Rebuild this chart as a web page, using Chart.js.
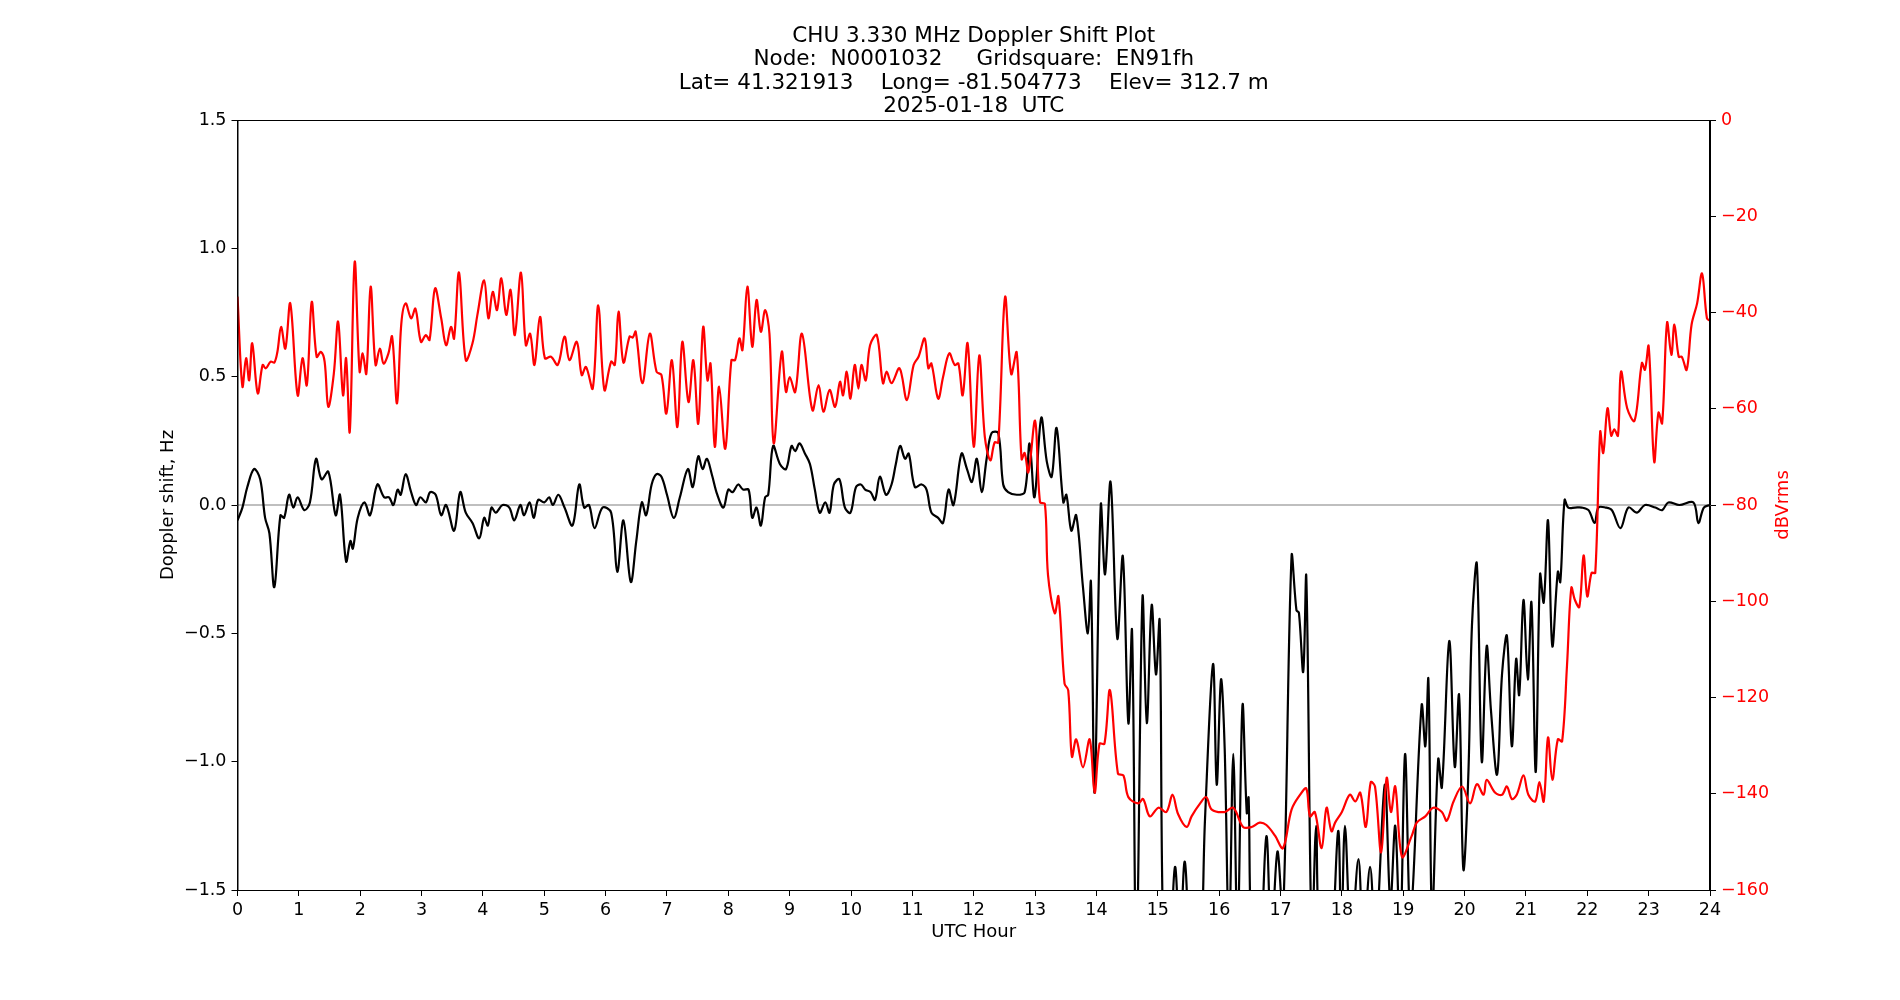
<!DOCTYPE html>
<html><head><meta charset="utf-8">
<script src="https://cdn.jsdelivr.net/npm/chart.js@4"></script>
<style>html,body{margin:0;padding:0;background:#fff}#wrap{width:1900px;height:1000px}</style>
</head><body><div id="wrap"><canvas id="c" width="1900" height="1000"></canvas></div>
<script>
const titleLines = ["CHU 3.330 MHz Doppler Shift Plot","Node:  N0001032     Gridsquare:  EN91fh","Lat= 41.321913    Long= -81.504773    Elev= 312.7 m","2025-01-18  UTC"];
const xLabel = "UTC Hour", yLabelLeft = "Doppler shift, Hz", yLabelRight = "dBVrms";
const hourTicks = [0,1,2,3,4,5,6,7,8,9,10,11,12,13,14,15,16,17,18,19,20,21,22,23,24];
const dopplerHours = [0,.08,.16,.27,.37,.45,.52,.6,.7,.76,.84,.91,.98,1.09,1.18,1.28,1.37,1.48,1.6,1.67,1.77,1.84,1.88,1.96,2.07,2.16,2.28,2.39,2.47,2.54,2.61,2.66,2.74,2.83,2.91,2.98,3.07,3.14,3.23,3.32,3.4,3.53,3.63,3.72,3.83,3.94,4.02,4.08,4.14,4.21,4.32,4.43,4.51,4.61,4.67,4.76,4.83,4.9,5.0,5.08,5.14,5.23,5.33,5.46,5.57,5.65,5.73,5.82,5.95,6.09,
6.19,6.29,6.41,6.5,6.59,6.66,6.75,6.83,6.91,7.0,7.11,7.21,7.34,7.42,7.51,7.58,7.65,7.73,7.82,7.92,8.0,8.07,8.16,8.24,8.33,8.39,8.46,8.53,8.6,8.65,8.73,8.84,8.94,9.03,9.09,9.16,9.25,9.33,9.41,9.49,9.58,9.65,9.72,9.81,9.9,9.99,10.08,10.16,10.23,10.32,10.39,10.47,10.57,10.66,10.73,10.8,10.88,10.94,11.04,11.15,11.23,11.31,11.42,11.5,11.59,11.67,11.8,11.89,11.97,12.05,12.13,12.21,12.29,12.4,12.48,12.56,12.7,12.83,12.91,12.99,13.1,
13.19,13.27,13.35,13.46,13.51,13.59,13.67,13.78,13.86,13.91,13.97,14.07,14.14,14.23,14.34,14.43,14.52,14.58,14.65,14.75,14.82,14.9,14.97,15.03,15.09,15.18,15.28,15.36,15.44,15.55,15.68,15.77,15.9,15.96,16.03,16.09,16.16,16.23,16.3,16.38,16.45,16.48,16.53,16.65,16.77,16.85,16.95,17.04,17.18,17.26,17.3,17.37,17.42,17.51,17.58,17.64,17.8,17.94,17.99,18.05,18.15,18.27,18.35,18.46,18.55,18.7,18.79,18.87,18.95,19.03,19.12,19.3,19.36,19.41,19.47,19.57,19.63,19.75,19.84,19.91,19.98,20.06,20.12,20.2,20.28,20.36,20.43,20.53,20.61,20.69,20.77,20.84,20.89,20.96,21.03,21.09,21.16,21.23,21.29,21.36,21.43,21.52,21.56,21.63,21.69,21.8,21.91,22.02,22.12,22.18,22.3,22.4,22.54,22.67,22.81,22.94,23.11,23.22,23.32,23.5,23.73,23.81,23.9,24.0];
const dopplerHz = [-0.06,-0.01,0.07,0.14,0.10,-0.05,-0.11,-0.32,-0.04,-0.05,0.04,-0.01,0.03,-0.02,0.01,0.18,0.10,0.13,-0.04,0.04,-0.22,-0.14,-0.17,-0.05,0.01,-0.04,0.08,0.03,0.03,0.0,0.06,0.04,0.12,0.05,0.0,0.03,0.01,0.05,0.04,-0.04,0.0,-0.1,0.05,-0.03,-0.07,-0.13,-0.05,-0.08,-0.01,-0.03,0.0,-0.01,-0.06,0.0,-0.04,0.01,-0.05,0.02,0.01,0.03,0.0,0.04,-0.01,-0.08,0.08,-0.01,0.0,-0.09,-0.01,-0.03,
-0.26,-0.06,-0.3,-0.14,0.01,-0.04,0.08,0.12,0.11,0.04,-0.05,0.03,0.14,0.07,0.19,0.14,0.18,0.12,0.04,-0.01,0.06,0.05,0.08,0.06,0.06,-0.05,-0.01,-0.08,0.03,0.04,0.23,0.16,0.14,0.23,0.21,0.24,0.2,0.16,0.06,-0.03,0.01,-0.03,0.08,0.10,-0.01,-0.03,0.07,0.08,0.06,0.05,0.02,0.11,0.04,0.08,0.16,0.23,0.18,0.2,0.07,0.08,0.06,-0.03,-0.05,-0.07,0.06,0.0,0.2,0.14,0.09,0.18,0.05,0.18,0.28,0.28,0.08,0.05,0.04,0.05,0.24,0.03,0.34,
0.17,0.11,0.3,0.01,0.04,-0.1,-0.04,-0.32,-0.5,-0.3,-1.12,0.0,-0.27,0.09,-0.52,-0.2,-0.85,-0.49,-1.8,-0.36,-0.85,-0.39,-0.66,-0.45,-1.7,-1.8,-1.41,-1.7,-1.39,-1.8,-1.8,-1.22,-0.62,-1.09,-0.68,-0.95,-1.7,-0.97,-1.7,-0.78,-1.2,-1.14,-1.7,-1.8,-1.29,-1.7,-1.35,-1.6,-0.2,-0.41,-0.42,-0.65,-0.28,-1.7,-1.25,-1.7,-1.8,-1.27,-1.7,-1.25,-1.7,-1.38,-1.7,-1.41,-1.7,-1.09,-1.55,-1.25,-1.7,-0.97,-1.6,-0.78,-0.94,-0.68,-1.6,-0.99,-1.1,-0.53,-1.02,-0.74,-1.42,-1.06,-0.47,-0.23,-1.0,-0.55,-0.8,-1.05,-0.66,-0.51,-0.94,-0.6,-0.74,-0.37,-0.68,-0.38,-1.04,-0.27,-0.38,-0.06,-0.55,-0.26,-0.3,0.02,-0.01,-0.01,-0.01,-0.02,-0.07,-0.01,-0.01,-0.02,-0.09,-0.01,-0.03,0.0,-0.01,-0.02,0.01,0.0,0.01,-0.07,-0.01,0.0];
const levelHours = [0,.08,.14,.19,.24,.33,.41,.46,.54,.6,.65,.71,.78,.86,.98,1.06,1.13,1.21,1.29,1.36,1.42,1.48,1.57,1.64,1.72,1.77,1.83,1.91,1.99,2.04,2.1,2.17,2.25,2.32,2.38,2.46,2.52,2.6,2.67,2.74,2.83,2.9,2.99,3.07,3.13,3.22,3.32,3.4,3.48,3.53,3.61,3.72,3.83,3.91,4.02,4.09,4.16,4.23,4.3,4.38,4.45,4.52,4.62,4.7,4.77,4.84,4.93,5.01,5.11,5.22,5.33,5.41,5.53,5.61,5.68,5.79,5.88,5.98,6.09,6.15,
6.21,6.29,6.39,6.44,6.49,6.6,6.72,6.83,6.91,6.99,7.08,7.17,7.25,7.35,7.43,7.51,7.59,7.66,7.71,7.78,7.85,7.95,8.05,8.11,8.18,8.23,8.31,8.39,8.46,8.53,8.6,8.67,8.74,8.87,8.94,9.0,9.09,9.2,9.37,9.47,9.55,9.65,9.74,9.82,9.87,9.93,9.99,10.06,10.12,10.17,10.24,10.31,10.42,10.52,10.58,10.66,10.79,10.91,11.02,11.1,11.2,11.26,11.31,11.42,11.5,11.6,11.69,11.75,11.82,11.9,12.0,12.09,12.18,12.27,
12.34,12.4,12.51,12.61,12.7,12.78,12.83,12.89,13.0,13.08,13.16,13.21,13.32,13.38,13.48,13.54,13.6,13.67,13.78,13.89,13.97,14.05,14.13,14.22,14.35,14.44,14.52,14.68,14.76,14.87,15.01,15.14,15.24,15.33,15.47,15.55,15.69,15.79,15.88,16.09,16.23,16.39,16.53,16.66,16.77,16.91,17.04,17.18,17.32,17.42,17.48,17.56,17.67,17.75,17.83,
17.89,18.0,18.13,18.22,18.3,18.39,18.47,18.54,18.64,18.73,18.8,18.87,18.98,19.14,19.22,19.36,19.49,19.63,19.71,19.82,19.96,20.09,20.2,20.31,20.36,20.5,20.61,20.69,20.77,20.85,20.96,21.04,21.15,21.22,21.29,21.36,21.43,21.52,21.59,21.67,21.74,21.8,21.87,21.94,22.0,22.07,22.13,22.21,22.26,22.33,22.39,22.44,22.5,22.55,22.65,22.77,22.89,22.94,23.0,23.09,23.16,23.22,23.3,23.37,23.42,23.49,23.54,23.62,23.7,23.79,23.87,23.95,24.0];
const levelDb = [-36.7,-55.4,-49.5,-54.1,-46.4,-56.8,-50.9,-51.6,-50.2,-50.4,-48.2,-43,-47.5,-38.1,-57.2,-49.5,-55.1,-37.8,-49.2,-48.2,-50.2,-59.6,-52.7,-41.9,-57.2,-49.5,-64.8,-29.5,-52.3,-48.5,-52.7,-34.6,-50.9,-47.5,-50.6,-48.5,-45,-58.9,-42.3,-38.1,-41.2,-39.2,-46.1,-44.7,-45.7,-35,-41.2,-46.8,-43,-45.4,-31.7,-49.9,-46.4,-40.5,-33.3,-41.2,-35.7,-39.5,-32.9,-40.5,-35.3,-44.7,-31.7,-46.8,-44.4,-50.9,-40.9,-49.5,-49.2,-50.9,-45,-49.9,-46.1,-53,-51.3,-55.8,-38.5,-56.1,-50.2,-50.9,
-39.8,-50.4,-45,-45.2,-44,-54.7,-44.4,-52.3,-53,-61,-49.9,-63.8,-46.1,-58.6,-49.9,-63.1,-43,-54.1,-50.6,-67.9,-55.4,-68.3,-49.9,-49.9,-45.4,-47.8,-34.6,-47.1,-37.4,-44,-39.5,-44.4,-67.2,-48.2,-56.5,-53.4,-56.5,-44.4,-60.3,-55.1,-60.6,-56.1,-59.6,-54.4,-57.2,-52.3,-57.9,-50.9,-55.8,-50.9,-54.1,-46.8,-44.7,-54.7,-52.3,-54.7,-51.6,-58.2,-50.9,-49.2,-45.4,-51.6,-50.6,-57.9,-53.4,-48.5,-50.9,-50.6,-57.2,-46.4,-67.9,-48.9,-65.8,-70.7,
-67,-67,-36.8,-52.8,-48.3,-70.5,-69.2,-73.2,-62.5,-79.4,-79.8,-94.5,-102.5,-99,-117.1,-118.5,-132.3,-128.7,-134.5,-128.7,-139.8,-129.6,-129.6,-118.5,-135.8,-136.2,-140.7,-142,-141.1,-144.7,-142.9,-143.8,-140.2,-144.2,-146.9,-144.7,-142,-140.7,-143.3,-143.8,-142.9,-146.9,-146.9,-146,-146.5,-148.7,-151.3,-143.3,-140.2,-138.9,-144.7,-143.8,-151.3,-142.9,-147.8,
-146,-143.8,-140.2,-141.6,-139.8,-146.9,-137.6,-138.5,-152.2,-136.7,-143.8,-138.5,-153.1,-148.7,-146,-144.7,-142.9,-143.8,-145.6,-141.6,-138.5,-142,-138,-140.2,-137.1,-139.8,-140.2,-138.5,-141.1,-140.2,-136.2,-140.2,-141.6,-137.6,-141.6,-128.3,-137.1,-128.7,-129.1,-113.2,-97.2,-99.8,-101.2,-90.5,-99,-94.1,-94.1,-64.8,-69.2,-59.9,-65.6,-64.3,-65.6,-52.3,-59.9,-62.5,-50.5,-51.9,-47,-71,-60.8,-63,-42.1,-48.8,-42.5,-49.2,-49.2,-51.9,-42.5,-38.1,-31.9,-41.2,-41.7];

const toXY = (xs, ys) => xs.map((x,i)=>({x, y: ys[i]}));
const minus = v => String(v).replace('-', '\u2212');
const FONT = 'DejaVu Sans';

const overlay = {
  id:'overlay',
  afterDraw(chart){
    const {ctx, chartArea:a} = chart;
    ctx.save();
    ctx.strokeStyle='#000'; ctx.lineWidth=1;
    ctx.strokeRect(a.left+0.5, a.top+0.5, a.right-a.left-1, a.bottom-a.top);
    ctx.fillStyle='#000'; ctx.textAlign='center'; ctx.textBaseline='middle';
    ctx.font = '21.5px "'+FONT+'"';
    const cx=(a.left+a.right)/2;
    titleLines.forEach((t,i)=>ctx.fillText(t, cx, 36+i*23.5));
    ctx.font = '18px "'+FONT+'"';
    ctx.fillText(xLabel, cx, 932);
    ctx.save(); ctx.translate(168,(a.top+a.bottom)/2); ctx.rotate(-Math.PI/2); ctx.fillText(yLabelLeft,0,0); ctx.restore();
    ctx.save(); ctx.fillStyle='#ff0000'; ctx.translate(1783,(a.top+a.bottom)/2); ctx.rotate(-Math.PI/2); ctx.fillText(yLabelRight,0,0); ctx.restore();
    ctx.restore();
  }
};

new Chart(document.getElementById('c'), {
  type:'line',
  data:{datasets:[
    {data: toXY([0,24],[0,0]), borderColor:'#808080', borderWidth:1.2, pointRadius:0, yAxisID:'y', order:3},
    {data: toXY(dopplerHours, dopplerHz), borderColor:'#000000', borderWidth:2.2, pointRadius:0, tension:0.35, yAxisID:'y', order:2},
    {data: toXY(levelHours, levelDb), borderColor:'#ff0000', borderWidth:2.2, pointRadius:0, tension:0.35, yAxisID:'y2', order:1}
  ]},
  options:{
    responsive:false, animation:false, devicePixelRatio:1,
    layout:{padding:{top:120,bottom:0,left:0,right:0}},
    plugins:{legend:{display:false}, tooltip:{enabled:false}, title:{display:false}},
    scales:{
      x:{type:'linear', min:0, max:24, afterBuildTicks(s){s.ticks=hourTicks.map(v=>({value:v}));},
        afterFit(s){s.height=110;},
        grid:{drawOnChartArea:false, tickLength:6, color:'#000'}, border:{color:'#000'},
        ticks:{color:'#000', font:{family:FONT,size:17.5}, padding:4, maxRotation:0, autoSkip:false, callback:v=>String(v)}},
      y:{position:'left', min:-1.5, max:1.5, afterFit(s){s.width=237.5;},
        afterBuildTicks(s){s.ticks=[-1.5,-1,-0.5,0,0.5,1,1.5].map(v=>({value:v}));},
        grid:{drawOnChartArea:false, tickLength:6, color:'#000'}, border:{color:'#000'},
        ticks:{color:'#000', font:{family:FONT,size:17.5}, padding:5, callback:v=>minus(Number(v).toFixed(1))}},
      y2:{position:'right', min:-160, max:0, afterFit(s){s.width=190;},
        afterBuildTicks(s){s.ticks=[-160,-140,-120,-100,-80,-60,-40,-20,0].map(v=>({value:v}));},
        grid:{drawOnChartArea:false, tickLength:6, color:'#000'}, border:{color:'#000'},
        ticks:{color:'#ff0000', font:{family:FONT,size:17.5}, padding:5, callback:v=>minus(v)}}
    }
  },
  plugins:[overlay]
});
</script></body></html>
